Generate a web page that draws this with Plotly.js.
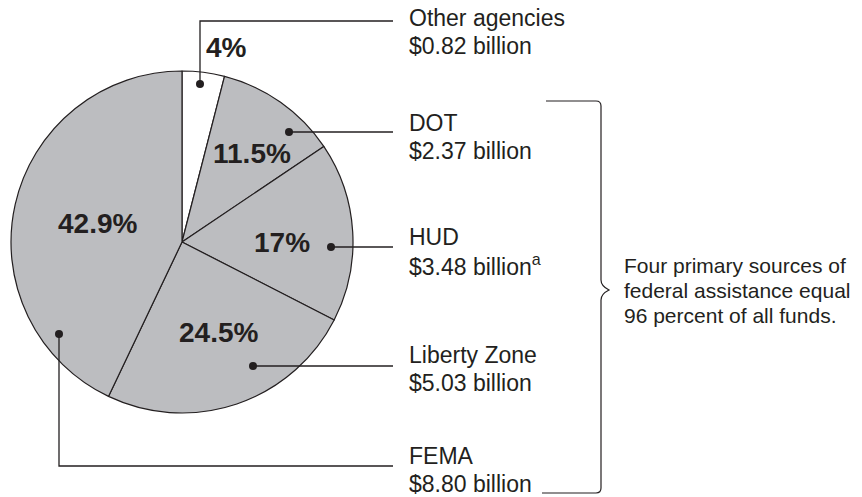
<!DOCTYPE html>
<html>
<head>
<meta charset="utf-8">
<script src="https://cdn.plot.ly/plotly-3.0.1.min.js"></script>
<style>
  html, body { margin: 0; padding: 0; background: #fff; }
  #chart { width: 862px; height: 497px; }
</style>
</head>
<body>
<div id="chart"></div>
<script>
// ---------- Data ----------
const agencies = ['Other agencies', 'DOT', 'HUD', 'Liberty Zone', 'FEMA'];
const amounts = [0.82, 2.37, 3.48, 5.03, 8.80];           // billions of dollars
const pctLabels = ['4%', '11.5%', '17%', '24.5%', '42.9%'];
const notes = ['', '', 'a', '', ''];
const sliceColors = ['#ffffff', '#bcbdc0', '#bcbdc0', '#bcbdc0', '#bcbdc0'];
const braceNote = ['Four primary sources of', 'federal assistance equal', '96 percent of all funds.'];

// ---------- Layout helpers (pixel positions) ----------
const W = 862, H = 497;
const ink = '#231f20';
const font = '"Liberation Sans", Arial, Helvetica, sans-serif';
const pie = {cx: 182, cy: 242, r: 171};

// percent label centres, callout dots, leader line paths and label rows
const pctPos = [[226, 47], [252, 153], [282, 242], [218, 332], [97, 223]];
const dotPos = [[200, 84], [289, 132], [331, 247], [253, 366], [59, 334]];
const lineEndX = 393;
const lineY = [21, 132, 247, 366, 466];
const labelX = 407;
const labelY = [18, 123, 237, 355, 456];
const rowGap = 28;

const shapes = [];
const annotations = [];

agencies.forEach((name, i) => {
    const [dx, dy] = dotPos[i];
    const ly = lineY[i];
    let path = `M${dx},${dy} `;
    if (ly !== dy) path += `L${dx},${ly} `;
    path += `L${lineEndX},${ly}`;
    shapes.push({type: 'path', xref: 'x', yref: 'y', path: path, line: {color: ink, width: 1.3}});
    shapes.push({type: 'circle', xref: 'x', yref: 'y', x0: dx - 4, x1: dx + 4, y0: dy - 4, y1: dy + 4,
                 fillcolor: ink, line: {width: 0}});

    annotations.push({xref: 'x', yref: 'y', x: pctPos[i][0], y: pctPos[i][1], text: '<b>' + pctLabels[i] + '</b>',
                      showarrow: false, xanchor: 'center', yanchor: 'middle',
                      font: {family: font, size: 28, color: ink}});
    annotations.push({xref: 'x', yref: 'y', x: labelX, y: labelY[i], text: name,
                      showarrow: false, xanchor: 'left', yanchor: 'middle',
                      font: {family: font, size: 23, color: ink}});
    const amt = '$' + amounts[i].toFixed(2) + ' billion' + (notes[i] ? '<sup>' + notes[i] + '</sup>' : '');
    annotations.push({xref: 'x', yref: 'y', x: labelX, y: labelY[i] + rowGap, text: amt,
                      showarrow: false, xanchor: 'left', yanchor: 'middle',
                      font: {family: font, size: 23, color: ink}});
});

// curly brace round the four main sources
shapes.push({type: 'path', xref: 'x', yref: 'y', line: {color: ink, width: 1.2},
    path: 'M546,101 L596,101 Q601,101 601,106 L601,280 Q601,286 609,290 Q601,294 601,300 L601,488 Q601,493 596,493 L542,493'});

braceNote.forEach((t, k) => {
    annotations.push({xref: 'x', yref: 'y', x: 622, y: 265 + k * 25, text: t, align: 'left',
                      showarrow: false, xanchor: 'left', yanchor: 'middle',
                      font: {family: font, size: 21, color: ink}});
});

// ---------- Chart ----------
const trace = {
    type: 'pie',
    labels: agencies,
    values: amounts,
    sort: false,
    direction: 'clockwise',
    rotation: 0,
    textinfo: 'none',
    hoverinfo: 'skip',
    showlegend: false,
    marker: {colors: sliceColors, line: {color: ink, width: 1.2}},
    domain: {x: [(pie.cx - pie.r) / W, (pie.cx + pie.r) / W],
             y: [(H - pie.cy - pie.r) / H, (H - pie.cy + pie.r) / H]}
};

const layout = {
    width: W, height: H,
    margin: {l: 0, r: 0, t: 0, b: 0},
    paper_bgcolor: '#fff', plot_bgcolor: 'rgba(0,0,0,0)',
    xaxis: {range: [0, W], visible: false, fixedrange: true},
    yaxis: {range: [H, 0], visible: false, fixedrange: true},
    shapes: shapes,
    annotations: annotations
};

Plotly.newPlot('chart', [trace], layout, {staticPlot: true, displayModeBar: false});
</script>
</body>
</html>
